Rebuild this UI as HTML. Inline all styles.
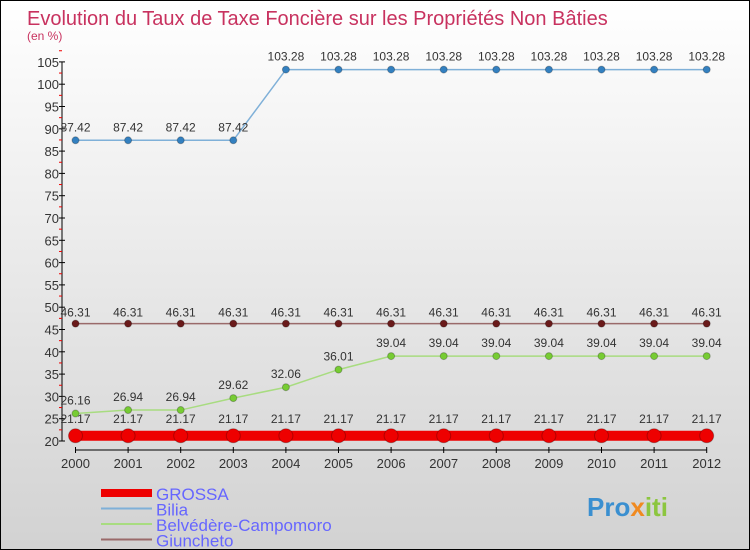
<!DOCTYPE html>
<html><head><meta charset="utf-8"><style>
body{margin:0}
#c{width:748px;height:548px;border:1px solid #000;background:linear-gradient(#fff,#d2d2d2);position:relative;overflow:hidden;font-family:"Liberation Sans",sans-serif}
</style></head><body>
<div id="c">
<svg id="s" width="748" height="548" style="position:absolute;left:0;top:0">
<text x="26" y="24" font-size="20" fill="#c8325f">Evolution du Taux de Taxe Foncière sur les Propriétés Non Bâties</text>
<text x="26" y="39" font-size="12" fill="#c8325f">(en %)</text>
<g id="ax"></g><g id="ser"></g>
<text x="586" y="515" font-size="26" font-weight="bold" fill="#3a8fd0">Pro<tspan fill="#f08a20">x</tspan><tspan fill="#8cc63f">iti</tspan></text>
</svg>
</div>
<script>
const years=[2000,2001,2002,2003,2004,2005,2006,2007,2008,2009,2010,2011,2012];
const grossa=[21.17,21.17,21.17,21.17,21.17,21.17,21.17,21.17,21.17,21.17,21.17,21.17,21.17];
const bilia=[87.42,87.42,87.42,87.42,103.28,103.28,103.28,103.28,103.28,103.28,103.28,103.28,103.28];
const belvedere=[26.16,26.94,26.94,29.62,32.06,36.01,39.04,39.04,39.04,39.04,39.04,39.04,39.04];
const giuncheto=[46.31,46.31,46.31,46.31,46.31,46.31,46.31,46.31,46.31,46.31,46.31,46.31,46.31];
const yTicks=[20,25,30,35,40,45,50,55,60,65,70,75,80,85,90,95,100,105];
const NS="http://www.w3.org/2000/svg";
const X=i=>74.5+i*52.6, Y=v=>440-(v-20)*4.46;
function mk(t,a,p){const e=document.createElementNS(NS,t);for(const k in a)e.setAttribute(k,a[k]);p.appendChild(e);return e;}
const ax=document.getElementById('ax'), ser=document.getElementById('ser');
const ya=mk('line',{x1:61,y1:Y(105),x2:61,y2:Y(20),stroke:'#000'},ax);


yTicks.forEach(v=>{
 const l=mk('line',{x1:58,x2:64,y1:Y(v),y2:Y(v),stroke:'#000'},ax);
 
 
 const m=mk('line',{x1:58,x2:61,y1:Y(v+2.5),y2:Y(v+2.5),stroke:'#e00'},ax);
 
 
 const t=mk('text',{x:58,y:Y(v)+5,'font-size':13,'text-anchor':'end',fill:'#333'},ax);t.textContent=v;
 
 
});
const xa=mk('line',{x1:X(0),x2:X(12),y1:449,y2:449,stroke:'#000'},ax);


years.forEach((y,i)=>{
 const l=mk('line',{x1:X(i),x2:X(i),y1:446,y2:452,stroke:'#000'},ax);
 
 
 const t=mk('text',{x:X(i),y:467,'font-size':13,'text-anchor':'middle',fill:'#333'},ax);t.textContent=y;
 
 
});
function series(name,vals,col,w,r,fill,lblOff){
 const g=mk('g',{},ser);
 
 
 const p=mk('polyline',{points:vals.map((v,i)=>X(i)+','+Y(v)).join(' '),fill:'none',stroke:col,'stroke-width':w},g);
 
 
 vals.forEach((v,i)=>{
  const c=mk('circle',{cx:X(i),cy:Y(v),r:r,fill:fill,stroke:'rgba(0,0,0,0.25)'},g);
  
  
  const t=mk('text',{x:X(i),y:Y(v)+lblOff,'font-size':12,'text-anchor':'middle',fill:'#333'},g);t.textContent=v.toFixed(2);
  
  
 });
}
series('giuncheto',giuncheto,'#9a6a6a',1.5,3.5,'#6a1a1a',-7);
series('belvedere',belvedere,'#a8dc80',1.5,3.5,'#77cc33',-9);
series('bilia',bilia,'#7fb0d8',1.5,3.5,'#3380c0',-9);
series('grossa',grossa,'#ee0000',10,7,'#ee0000',-13);
const leg=[['GROSSA','#ee0000',8],['Bilia','#7fb0d8',2],['Belvédère-Campomoro','#a8dc80',2],['Giuncheto','#9a6a6a',2]];
leg.forEach((e,i)=>{
 const yy=492+i*15.5;
 const l=mk('line',{x1:100,x2:151,y1:yy,y2:yy,stroke:e[1],'stroke-width':e[2]},ax);
 
 
 const t=mk('text',{x:155,y:yy+7,'font-size':17,fill:'#6666ff'},ax);t.textContent=e[0];
 
 
});
</script>
</body></html>
